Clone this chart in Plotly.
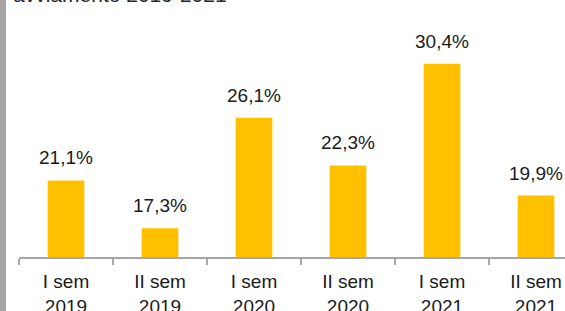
import plotly.graph_objects as go

categories = ["I sem<br>2019", "II sem<br>2019", "I sem<br>2020", "II sem<br>2020", "I sem<br>2021", "II sem<br>2021"]
values = [21.1, 17.3, 26.1, 22.3, 30.4, 19.9]
labels = ["21,1%", "17,3%", "26,1%", "22,3%", "30,4%", "19,9%"]
title_text = "avviamento 2019-2021"

W, H = 565, 311
ml, mr, mt, mb = 19, 0, 20, 54
cat_px = 94.0
plot_w = W - ml - mr
plot_h = H - mt - mb
x_max = -0.5 + plot_w / cat_px
px_per_unit = 12.55
y_min = 15
y_max = y_min + plot_h / px_per_unit

FONT = "Liberation Sans, Arial, sans-serif"
BAR = "#FFC000"
GREY = "#A6A6A6"

fig = go.Figure()
fig.add_trace(go.Bar(
    x=categories, y=[v - y_min for v in values], base=y_min,
    marker=dict(color=BAR, line=dict(width=0)),
    width=0.39, hoverinfo="skip",
))

for c, v, t in zip(categories, values, labels):
    fig.add_annotation(x=c, y=v, text=t, showarrow=False, yanchor="bottom",
                       yshift=10, font=dict(family=FONT, size=19, color="#1a1a1a"))

fig.add_annotation(xref="paper", yref="paper", x=-8 / plot_w, y=1 + (mt - 8) / plot_h,
                   xanchor="left", yanchor="bottom", text=title_text, showarrow=False,
                   font=dict(family=FONT, size=21, color="#262626"))

fig.add_shape(type="rect", xref="paper", yref="paper",
              x0=-ml / plot_w, x1=(6 - ml) / plot_w,
              y0=-mb / plot_h, y1=1 + mt / plot_h,
              fillcolor=GREY, line=dict(width=0), layer="above")

fig.update_layout(
    width=W, height=H, margin=dict(l=ml, r=mr, t=mt, b=mb),
    paper_bgcolor="white", plot_bgcolor="white", showlegend=False,
    font=dict(family=FONT, size=19, color="#1a1a1a"),
)
fig.update_xaxes(type="category", range=[-0.5, x_max], showline=True, linecolor=GREY, linewidth=1.5,
                 ticks="outside", tickson="boundaries", ticklen=6, tickcolor=GREY, tickwidth=1.5,
                 ticklabelstandoff=7, automargin=False,
                 showgrid=False, tickfont=dict(family=FONT, size=19, color="#1a1a1a"))
fig.update_yaxes(range=[y_min, y_max], visible=False, showgrid=False, zeroline=False)

fig.write_html("out.html", config={"displayModeBar": False, "staticPlot": True})

with open("out.html", "r", encoding="utf-8") as f:
    html = f.read()
html = html.replace("<head>", "<head><style>html,body{margin:0;padding:0;overflow:hidden;}</style>", 1)
with open("out.html", "w", encoding="utf-8") as f:
    f.write(html)
